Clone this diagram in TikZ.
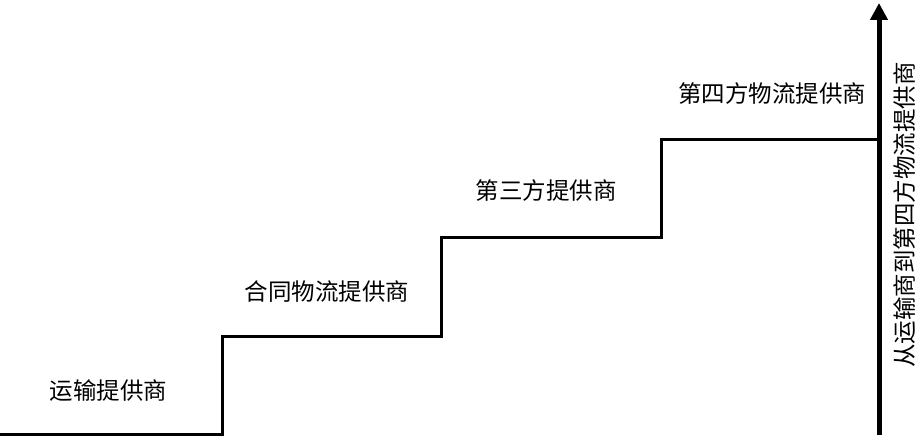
\documentclass[tikz,border=0pt]{standalone}
\usepackage{fontspec}
\newfontfamily\cjk{Noto Sans CJK SC}
\usetikzlibrary{arrows.meta}
\tikzset{
  lbl/.style={font=\cjk\fontsize{23.5}{25}\selectfont, inner sep=0pt, text=black},
  stair/.style={line width=3pt, draw=black, line join=miter},
  axis/.style={line width=5pt, draw=black, -{Triangle[length=17pt,width=17pt]}}
}
\begin{document}
\begin{tikzpicture}[x=1pt,y=-1pt]
\useasboundingbox (0,0) rectangle (918,438);
\coordinate (s0) at (0,434.5);
\coordinate (s1) at (222,434.5);
\coordinate (s2) at (222,336);
\coordinate (s3) at (441,336);
\coordinate (s4) at (441,237.5);
\coordinate (s5) at (661,237.5);
\coordinate (s6) at (661,139.5);
\coordinate (s7) at (879,139.5);
\draw[stair] (s0) -- (s1) -- (s2) -- (s3) -- (s4) -- (s5) -- (s6) -- (s7);
\coordinate (a0) at (879,435);
\coordinate (a1) at (879,3);
\draw[axis] (a0) -- (a1);
\node[lbl] (l1) at (108.5,391) {运输提供商};
\node[lbl] (l2) at (327,292) {合同物流提供商};
\node[lbl] (l3) at (546,191) {第三方提供商};
\node[lbl] (l4) at (772,94) {第四方物流提供商};
\node[lbl, rotate=90] (lv) at (905,215) {从运输商到第四方物流提供商};
\end{tikzpicture}
\end{document}
